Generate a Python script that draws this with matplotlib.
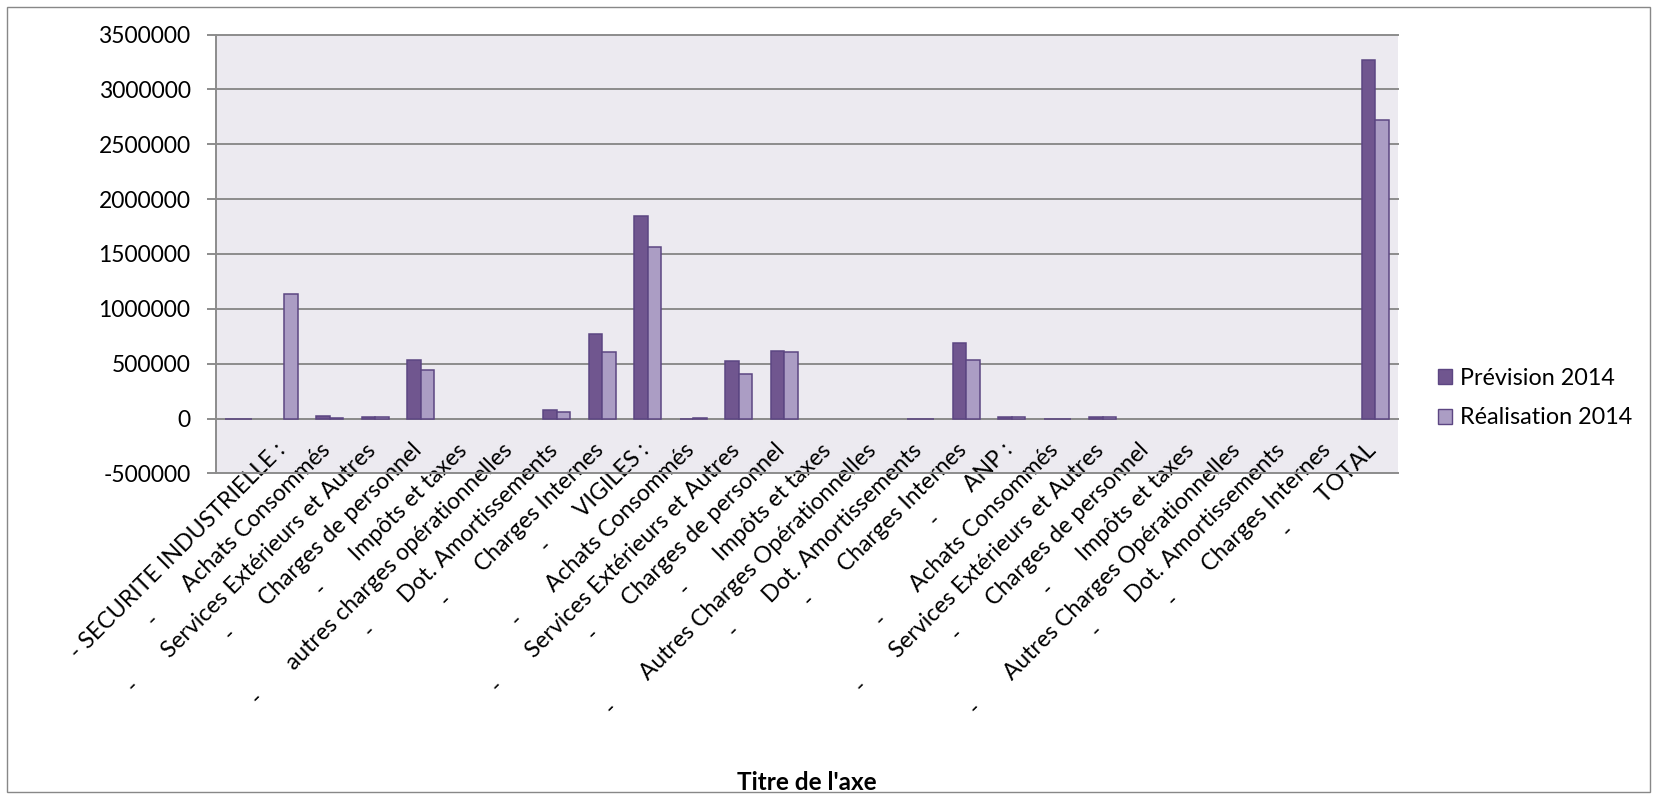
import numpy as np
import matplotlib
matplotlib.use("Agg")
import matplotlib.pyplot as plt
from matplotlib.patches import Patch, Rectangle
from matplotlib.transforms import ScaledTranslation

plt.rcParams['font.family'] = ['Lato', 'DejaVu Sans']

# Catégories : un tiret, une tabulation puis le libellé (comme dans la feuille Excel)
names = [
    "",
    "SECURITE INDUSTRIELLE :",
    "Achats Consommés",
    "Services Extérieurs et Autres",
    "Charges de personnel",
    "Impôts et taxes",
    "autres charges opérationnelles",
    "Dot. Amortissements",
    "Charges Internes",
    "VIGILES :",
    "Achats Consommés",
    "Services Extérieurs et Autres",
    "Charges de personnel",
    "Impôts et taxes",
    "Autres Charges Opérationnelles",
    "Dot. Amortissements",
    "Charges Internes",
    "ANP :",
    "Achats Consommés",
    "Services Extérieurs et Autres",
    "Charges de personnel",
    "Impôts et taxes",
    "Autres Charges Opérationnelles",
    "Dot. Amortissements",
    "Charges Internes",
    "TOTAL",
]

nan = np.nan
prevision_2014 = [0, nan, 20000, 18000, 538000, nan, nan, 76000, 768000,
                  1844000, 0, 524000, 620000, nan, nan, 0, 693000,
                  12000, 0, 13000, nan, nan, nan, nan, nan, 3270000]
realisation_2014 = [0, 1140000, 10000, 17000, 442000, nan, nan, 64000, 604000,
                    1568000, 8000, 406000, 611000, nan, nan, 0, 538000,
                    12000, 0, 13000, nan, nan, nan, nan, nan, 2722000]
series_names = ['Prévision 2014', 'Réalisation 2014']
y_ticks = list(range(-500000, 3500001, 500000))

# couleurs
dark = '#70568F'
light = '#AB9DC4'
edge = '#5C4682'
grid_col = '#8C8C8C'
bg = '#ECEAF0'

fig = plt.figure(figsize=(16.57, 7.99), dpi=100)
renderer = fig.canvas.get_renderer()


def text_width(s, size, weight='normal'):
    t = fig.text(0, 0, s, fontsize=size, fontweight=weight)
    wpx = t.get_window_extent(renderer).width
    t.remove()
    return wpx


# tailles de police calées sur les largeurs mesurées dans l'image (Calibri)
fs_num = 16 * 93 / text_width("3500000", 16)
fs_txt = 16 * 201 / text_width("Achats Consommés", 16)
fs_leg = 16 * 155 / text_width("Prévision 2014", 16)
fs_title = 16 * 140 / text_width("Titre de l'axe", 16, 'bold')

# largeur de la tabulation entre le tiret et le libellé (~47 px)
w_dash = text_width("-", fs_txt)
w_space = (text_width("-" + " " * 10 + "A", fs_txt) - text_width("-A", fs_txt)) / 10
n_sp = max(1, int(round((47 - w_dash) / w_space)))
TAB = " " * n_sp
categories = ["-" + TAB + n if n else "" for n in names]
categories[1] = "- " + names[1]

ax = fig.add_axes([216 / 1657, 1 - 473.5 / 799, 1182 / 1657, 439 / 799])

x = np.arange(len(categories))
w = 0.297
ax.bar(x - w / 2, prevision_2014, w, color=dark, edgecolor=edge, linewidth=1.1, zorder=3)
ax.bar(x + w / 2, realisation_2014, w, color=light, edgecolor=edge, linewidth=1.1, zorder=3)

ax.set_xlim(-0.5, len(categories) - 0.5)
ax.set_ylim(y_ticks[0], y_ticks[-1])
ax.set_yticks(y_ticks)
ax.set_yticklabels([str(v) for v in y_ticks])
ax.set_facecolor(bg)

# grille et axes
ax.yaxis.grid(True, color=grid_col, linewidth=1.4)
ax.set_axisbelow(True)
for gl in ax.get_ygridlines():
    gl.set_clip_on(False)
ax.spines['top'].set_visible(False)
ax.spines['right'].set_visible(False)
ax.spines['left'].set_color(grid_col)
ax.spines['left'].set_linewidth(1.4)
ax.spines['bottom'].set_position(('data', 0))
ax.spines['bottom'].set_color(grid_col)
ax.spines['bottom'].set_linewidth(1.4)

ax.tick_params(axis='y', length=6.3, width=1.4, color=grid_col, pad=12, labelsize=fs_num)
ax.tick_params(axis='x', length=0, pad=15, labelsize=fs_txt)
ax.set_xticks(x)
ax.set_xticklabels(categories, rotation=45, ha='right', va='top', rotation_mode='default')
shift = ScaledTranslation(0.05, 0, fig.dpi_scale_trans)
for lab in ax.get_xticklabels():
    lab.set_transform(lab.get_transform() + shift)

# légende
handles = [Patch(facecolor=dark, edgecolor=edge), Patch(facecolor=light, edgecolor=edge)]
fig.legend(handles, series_names, loc='center left', bbox_to_anchor=(1438 / 1657, 1 - 398 / 799),
           frameon=False, fontsize=fs_leg, handlelength=0.62, handleheight=0.62,
           handletextpad=0.3, labelspacing=0.8, borderpad=0, borderaxespad=0)

# titre de l'axe
fig.text(807 / 1657, 1 - 782 / 799, "Titre de l'axe", fontsize=fs_title, fontweight='bold',
         ha='center', va='center')

# cadre du graphique
fig.patches.append(Rectangle((7 / 1657, 7 / 799), 1643 / 1657, 785 / 799,
                             transform=fig.transFigure, fill=False,
                             edgecolor='#888888', linewidth=1))

fig.savefig('out.png', dpi=100)
